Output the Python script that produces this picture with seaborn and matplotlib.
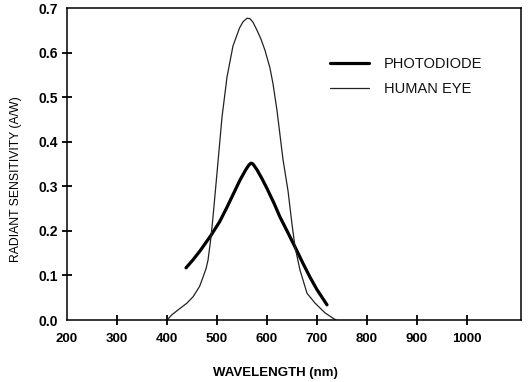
import matplotlib
matplotlib.use("Agg")
import matplotlib.pyplot as plt
import seaborn as sns
import pandas as pd

# Data
eye_wavelength = [400, 410, 426, 440, 452, 465, 472, 478, 482, 488, 492, 500, 504, 510, 520,
                  532, 545, 552, 560, 566, 572, 580, 588, 596, 606, 612, 620, 626, 632, 642,
                  650, 656, 666, 680, 696, 716, 732, 738]
eye_sensitivity = [0.0, 0.012, 0.026, 0.038, 0.052, 0.075, 0.096, 0.115, 0.134, 0.186, 0.231,
                   0.33, 0.38, 0.455, 0.545, 0.615, 0.655, 0.669, 0.677, 0.676, 0.668, 0.65,
                   0.63, 0.605, 0.565, 0.53, 0.47, 0.415, 0.36, 0.29, 0.215, 0.164, 0.112,
                   0.06, 0.038, 0.016, 0.004, 0.0]
pd_wavelength = [438, 452, 466, 488, 505, 520, 546, 558, 564, 568, 572, 580, 590, 600, 614,
                 626, 640, 656, 672, 686, 700, 720]
pd_sensitivity = [0.117, 0.135, 0.155, 0.19, 0.22, 0.253, 0.314, 0.338, 0.348, 0.352, 0.35,
                  0.337, 0.317, 0.295, 0.262, 0.231, 0.2, 0.164, 0.127, 0.096, 0.068, 0.034]
x_ticks = [200, 300, 400, 500, 600, 700, 800, 900, 1000]
y_ticks = [0.0, 0.1, 0.2, 0.3, 0.4, 0.5, 0.6, 0.7]
series_names = ["PHOTODIODE", "HUMAN EYE"]

sns.set_style("white")
plt.rcParams['font.family'] = ['Liberation Sans', 'DejaVu Sans']
plt.rcParams['text.color'] = 'black'
plt.rcParams['axes.labelcolor'] = 'black'
plt.rcParams['xtick.color'] = 'black'
plt.rcParams['ytick.color'] = 'black'

df = pd.concat([
    pd.DataFrame({"wavelength": pd_wavelength, "sens": pd_sensitivity, "series": series_names[0]}),
    pd.DataFrame({"wavelength": eye_wavelength, "sens": eye_sensitivity, "series": series_names[1]}),
], ignore_index=True)

fig = plt.figure(figsize=(5.29, 3.82), dpi=100)
ax = fig.add_axes([67/529, 1-320/382, (521-67)/529, (320-8)/382])

sns.lineplot(data=df, x="wavelength", y="sens", hue="series", size="series",
             hue_order=series_names, size_order=series_names,
             palette={series_names[0]: "#000000", series_names[1]: "#222222"},
             sizes={series_names[0]: 2.3, series_names[1]: 0.9},
             sort=False, estimator=None, ax=ax)
for ln in ax.lines:
    ln.set_solid_joinstyle("round")
    ln.set_solid_capstyle("round")

ax.set_xlim(200, 1108)
ax.set_ylim(0, 0.7)
ax.set_xticks(x_ticks)
ax.set_yticks(y_ticks)
ax.set_xticklabels([str(v) for v in x_ticks], fontsize=9.5, fontweight="bold")
ax.set_yticklabels([f"{v:.1f}" for v in y_ticks], fontsize=10, fontweight="bold")
ax.tick_params(axis="both", direction="inout", length=7, width=1.3, color="black",
               labelcolor="black", pad=3, bottom=True, left=True)
ax.tick_params(axis="x", pad=6)

# corner ticks are not drawn in the reference
for t in [ax.xaxis.get_major_ticks()[0], ax.yaxis.get_major_ticks()[0],
          ax.yaxis.get_major_ticks()[-1]]:
    t.tick1line.set_visible(False)

for s in ax.spines.values():
    s.set_visible(True)
    s.set_color("black")
    s.set_linewidth(1.1)

ax.set_xlabel("WAVELENGTH (nm)", fontsize=9.5, fontweight="bold", color="black")
ax.xaxis.set_label_coords(0.46, -0.15)
ax.set_ylabel("RADIANT SENSITIVITY (A/W)", fontsize=8.8, color="black")
ax.yaxis.set_label_coords(-0.1, 0.45)

leg = ax.legend(frameon=False, loc="upper left", bbox_to_anchor=(0.55, 0.885),
                fontsize=10.5, handlelength=2.7, handletextpad=1.0, labelspacing=0.75)
for t in leg.get_texts():
    t.set_color("#111111")

fig.savefig("out.png", dpi=100)
